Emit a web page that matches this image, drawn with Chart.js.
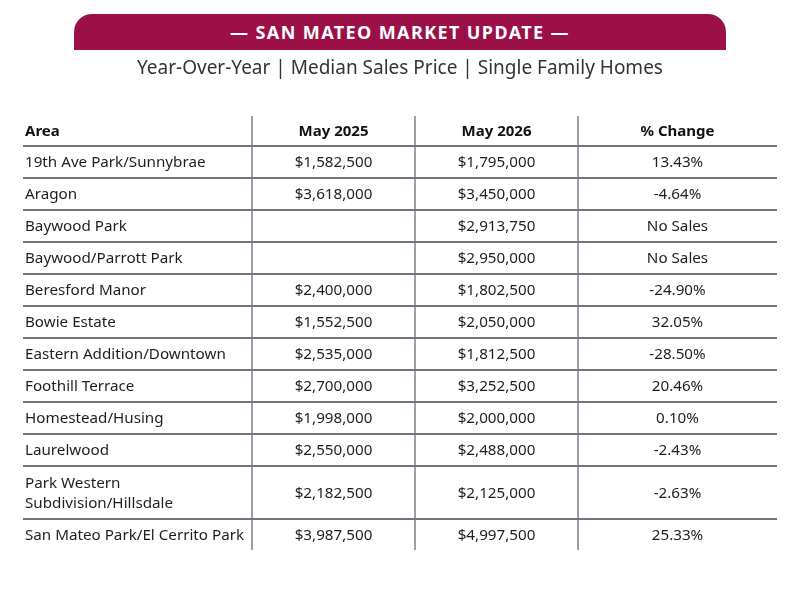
<!DOCTYPE html>
<html>
<head>
<meta charset="utf-8">
<script src="https://cdn.jsdelivr.net/npm/chart.js@4.4.1/dist/chart.umd.min.js"></script>
<style>
  body { margin: 0; background: #fff; }
  #wrap { position: relative; width: 800px; height: 600px; }
  #banner {
    position: absolute; left: 74px; top: 14px; width: 652px; height: 36px;
    background: #9c1048; border-radius: 18px 18px 0 0;
    color: #fff; font: bold 18px "Noto Sans", sans-serif; letter-spacing: 1.4px;
    text-align: center; line-height: 36px;
  }
  #subtitle {
    position: absolute; left: 0; top: 54px; width: 800px; text-align: center;
    font: 19px "Noto Sans", sans-serif; color: #333;
  }
  canvas { position: absolute; left: 0; top: 0; }
</style>
</head>
<body>
<div id="wrap">
  <canvas id="tableChart" width="800" height="600"></canvas>
  <div id="banner">— SAN MATEO MARKET UPDATE —</div>
  <div id="subtitle">Year-Over-Year | Median Sales Price | Single Family Homes</div>
</div>
<script>
const headers = ['Area', 'May 2025', 'May 2026', '% Change'];
const areas = [
    '19th Ave Park/Sunnybrae',
    'Aragon',
    'Baywood Park',
    'Baywood/Parrott Park',
    'Beresford Manor',
    'Bowie Estate',
    'Eastern Addition/Downtown',
    'Foothill Terrace',
    'Homestead/Husing',
    'Laurelwood',
    ['Park Western', 'Subdivision/Hillsdale'],
    'San Mateo Park/El Cerrito Park'
];
const may2025 = [1582500, 3618000, null, null, 2400000, 1552500, 2535000, 2700000, 1998000, 2550000, 2182500, 3987500];
const may2026 = [1795000, 3450000, 2913750, 2950000, 1802500, 2050000, 1812500, 3252500, 2000000, 2488000, 2125000, 4997500];
const pctChange = [13.43, -4.64, null, null, -24.90, 32.05, -28.50, 20.46, 0.10, -2.43, -2.63, 25.33];

// layout: row heights (header first), column edges and text anchors in scale units
const rowHeights = [30, 32, 32, 32, 32, 32, 32, 32, 32, 32, 32, 53, 31];
const colEdges = [229, 392, 555];
const colAnchors = [2, 310.5, 473.5, 654.5];
const tableWidth = 754;

const rowEdges = [];
let acc = 0;
rowHeights.forEach(h => { acc += h; rowEdges.push(acc); });
const tableHeight = acc;
const rowCenter = i => rowEdges[i] - rowHeights[i] / 2;

function money(v) {
    return v == null ? '' : '$' + v.toLocaleString('en-US');
}
function pct(v) {
    return v == null ? 'No Sales' : v.toFixed(2) + '%';
}

function cells(col, texts) {
    return texts.map((t, i) => ({ x: colAnchors[col], y: rowCenter(i + 1), text: t }));
}

const headerData = headers.map((h, c) => ({ x: colAnchors[c], y: rowCenter(0), text: h }));

const cellText = {
    id: 'cellText',
    afterDatasetsDraw(chart) {
        const ctx = chart.ctx;
        ctx.save();
        ctx.textBaseline = 'middle';
        chart.data.datasets.forEach((ds, di) => {
            const meta = chart.getDatasetMeta(di);
            ctx.font = ds.cellFont;
            ctx.fillStyle = ds.cellColor;
            meta.data.forEach((pt, i) => {
                const raw = ds.data[i];
                ctx.textAlign = raw.x === colAnchors[0] ? 'left' : 'center';
                const lines = Array.isArray(raw.text) ? raw.text : [raw.text];
                const lh = 20;
                lines.forEach((ln, k) => {
                    ctx.fillText(ln, pt.x, pt.y + 1 + (k - (lines.length - 1) / 2) * lh);
                });
            });
        });
        ctx.restore();
    }
};

const bodyFont = '15.2px "Noto Sans", sans-serif';
const ctx = document.getElementById('tableChart').getContext('2d');
new Chart(ctx, {
    type: 'scatter',
    data: {
        datasets: [
            { label: 'header', data: headerData, cellFont: 'bold 15px "Noto Sans", sans-serif', cellColor: '#111' },
            { label: 'Area', data: cells(0, areas), cellFont: bodyFont, cellColor: '#1e1e1e' },
            { label: 'May 2025', data: cells(1, may2025.map(money)), cellFont: bodyFont, cellColor: '#1e1e1e' },
            { label: 'May 2026', data: cells(2, may2026.map(money)), cellFont: bodyFont, cellColor: '#1e1e1e' },
            { label: '% Change', data: cells(3, pctChange.map(pct)), cellFont: bodyFont, cellColor: '#1e1e1e' }
        ]
    },
    options: {
        responsive: false,
        animation: false,
        layout: { padding: { left: 23, right: 23, top: 116, bottom: 50 } },
        elements: { point: { radius: 0, hoverRadius: 0 } },
        plugins: { legend: { display: false }, tooltip: { enabled: false } },
        scales: {
            x: {
                type: 'linear', min: 0, max: tableWidth,
                afterBuildTicks: s => { s.ticks = colEdges.map(v => ({ value: v })); },
                afterFit: s => { s.height = 0; },
                ticks: { display: false },
                border: { display: false },
                grid: { color: '#9ca0a6', lineWidth: 2, drawTicks: false }
            },
            y: {
                type: 'linear', min: 0, max: tableHeight, reverse: true,
                afterBuildTicks: s => { s.ticks = rowEdges.slice(0, -1).map(v => ({ value: v })); },
                afterFit: s => { s.width = 0; },
                ticks: { display: false },
                border: { display: false },
                grid: { color: '#6f7680', lineWidth: 2, drawTicks: false }
            }
        }
    },
    plugins: [cellText]
});
</script>
</body>
</html>
